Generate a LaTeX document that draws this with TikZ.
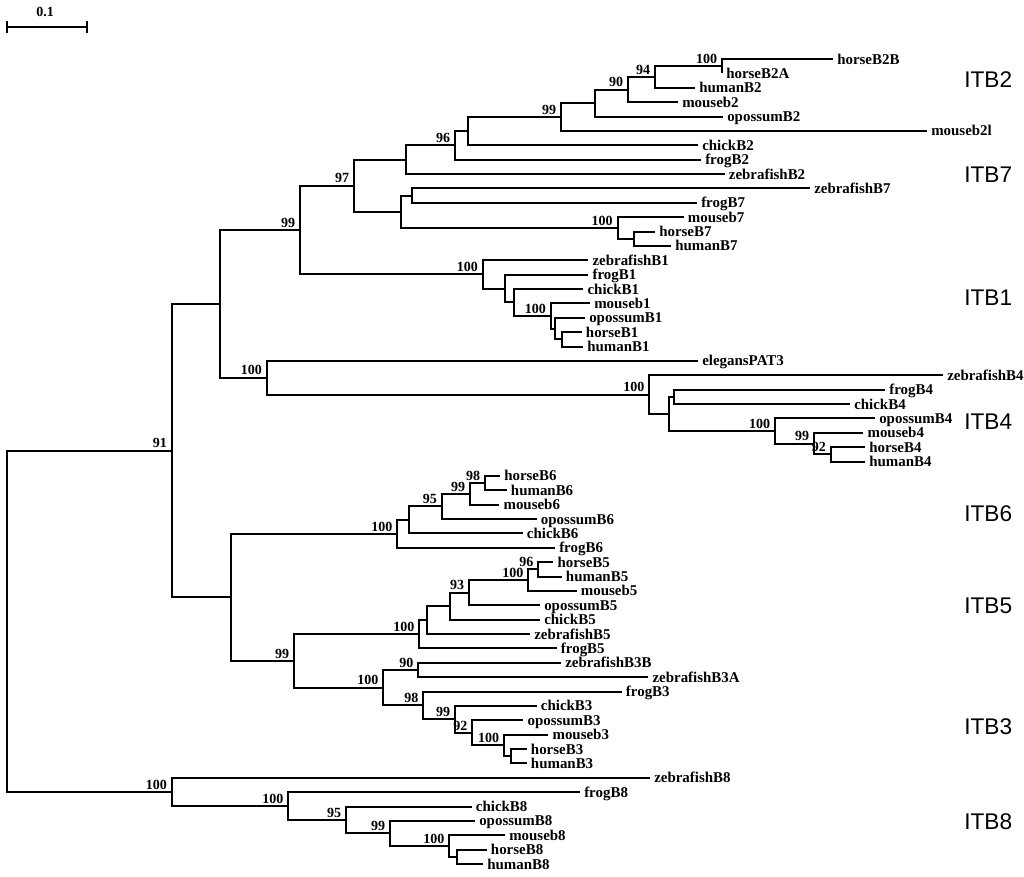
\documentclass[tikz,border=0pt]{standalone}
\usepackage{fontspec}
\setmainfont{Liberation Serif}
\newfontfamily\arialfont{Liberation Sans}
\newcommand{\myleaf}[4]{\coordinate (#1) at (#2,#3); \node[leaflab] (#1t) at (#1) {#4};}
\newcommand{\myboot}[3]{\node[bootlab] (#1) at (#2) {#3};}
\begin{document}
\begin{tikzpicture}[x=0.75pt,y=-0.75pt,
  br/.style={line width=1.5pt, line join=miter},
  leaflab/.style={anchor=base west, inner sep=0pt, xshift=3pt, yshift=-3.75pt, font=\bfseries\fontsize{11.2}{12}\selectfont},
  bootlab/.style={anchor=south east, inner sep=0pt, xshift=-3.5pt, yshift=1.8pt, font=\bfseries\fontsize{10.5}{12}\selectfont},
  clade/.style={anchor=west, inner sep=0pt, font=\arialfont\fontsize{17}{20}\selectfont}]
\useasboundingbox (0,0) rectangle (1024,876);
% scale bar
\coordinate (sb1) at (7,27);
\coordinate (sb2) at (87,27);
\coordinate (sb1a) at (7,21);
\coordinate (sb1b) at (7,33);
\coordinate (sb2a) at (87,21);
\coordinate (sb2b) at (87,33);
\draw[br] (sb1) -- (sb2);
\draw[br] (sb1a) -- (sb1b);
\draw[br] (sb2a) -- (sb2b);
\node[font=\bfseries\fontsize{10.5}{12}\selectfont, inner sep=0pt] (sbl) at (45,12) {0.1};
% internal nodes
\coordinate (root) at (7.3,621.27);
\coordinate (N91) at (171.7,450.64);
\coordinate (N8) at (171.7,791.90);
\coordinate (N220) at (220,303.89);
\coordinate (N231) at (231,597.39);
\coordinate (N99a) at (300,230.06);
\coordinate (J) at (266.7,377.72);
\coordinate (N97) at (354,185.71);
\coordinate (N100B1) at (482.7,274.40);
\coordinate (NB) at (405.7,159.68);
\coordinate (C) at (401.4,211.73);
\coordinate (N96) at (455,145.36);
\coordinate (A) at (467.5,131.10);
\coordinate (N99b) at (561,116.95);
\coordinate (Nq) at (595,103.02);
\coordinate (N90) at (628,89.55);
\coordinate (N94) at (655,76.97);
\coordinate (N100a) at (722,66.19);
\coordinate (D) at (412,195.56);
\coordinate (N100B7) at (617.5,227.91);
\coordinate (E) at (633.6,238.69);
\coordinate (F) at (505,288.55);
\coordinate (G) at (514,302.48);
\coordinate (N100b) at (550.7,315.95);
\coordinate (H) at (555,328.53);
\coordinate (I) at (561.7,339.31);
\coordinate (N100B4) at (649.3,394.57);
\coordinate (K) at (669.3,413.88);
\coordinate (L) at (674,396.81);
\coordinate (N100c) at (775,430.95);
\coordinate (N99B4) at (814,443.53);
\coordinate (N92B4) at (830.7,454.31);
\coordinate (N100B6) at (397.3,533.82);
\coordinate (M) at (409.3,519.90);
\coordinate (N95) at (441.7,506.42);
\coordinate (N99d) at (470,493.84);
\coordinate (N98) at (485,483.06);
\coordinate (N99c) at (294,660.95);
\coordinate (N100B5) at (419.3,634.22);
\coordinate (O) at (426.7,620.07);
\coordinate (Q) at (450,606.15);
\coordinate (P) at (469,592.67);
\coordinate (N100e) at (528.3,580.09);
\coordinate (N96e) at (538.3,569.31);
\coordinate (N100B3) at (383.3,687.68);
\coordinate (N90B3) at (418.3,669.94);
\coordinate (N98B3) at (423.3,705.43);
\coordinate (N99B3) at (455,719.35);
\coordinate (N92B3) at (472.3,732.83);
\coordinate (N100f) at (504,745.41);
\coordinate (R) at (510.7,756.19);
\coordinate (N100g) at (288.3,806.05);
\coordinate (N95g) at (346,819.98);
\coordinate (N99g) at (390,833.45);
\coordinate (N100h) at (449.3,846.03);
\coordinate (S) at (456.7,856.81);
% leaves
\myleaf{l1}{833}{59}{horseB2B}
\myleaf{l2}{722}{73.375}{horseB2A}
\myleaf{l3}{695}{87.75}{humanB2}
\myleaf{l4}{678}{102.125}{mouseb2}
\myleaf{l5}{723}{116.5}{opossumB2}
\myleaf{l6}{927}{130.875}{mouseb2l}
\myleaf{l7}{698}{145.25}{chickB2}
\myleaf{l8}{701}{159.625}{frogB2}
\myleaf{l9}{724.6}{174}{zebrafishB2}
\myleaf{l10}{810}{188.375}{zebrafishB7}
\myleaf{l11}{697}{202.75}{frogB7}
\myleaf{l12}{683.6}{217.125}{mouseb7}
\myleaf{l13}{655}{231.5}{horseB7}
\myleaf{l14}{671}{245.875}{humanB7}
\myleaf{l15}{588.3}{260.25}{zebrafishB1}
\myleaf{l16}{588.3}{274.625}{frogB1}
\myleaf{l17}{583.3}{289}{chickB1}
\myleaf{l18}{590}{303.375}{mouseb1}
\myleaf{l19}{585}{317.75}{opossumB1}
\myleaf{l20}{581.7}{332.125}{horseB1}
\myleaf{l21}{583}{346.5}{humanB1}
\myleaf{l22}{698}{360.875}{elegansPAT3}
\myleaf{l23}{943}{375.25}{zebrafishB4}
\myleaf{l24}{885}{389.625}{frogB4}
\myleaf{l25}{850}{404}{chickB4}
\myleaf{l26}{875}{418.375}{opossumB4}
\myleaf{l27}{863.3}{432.75}{mouseb4}
\myleaf{l28}{865}{447.125}{horseB4}
\myleaf{l29}{865}{461.5}{humanB4}
\myleaf{l30}{500}{475.875}{horseB6}
\myleaf{l31}{506.7}{490.25}{humanB6}
\myleaf{l32}{499.3}{504.625}{mouseb6}
\myleaf{l33}{536.7}{519}{opossumB6}
\myleaf{l34}{522.7}{533.375}{chickB6}
\myleaf{l35}{555}{547.75}{frogB6}
\myleaf{l36}{553.3}{562.125}{horseB5}
\myleaf{l37}{561.7}{576.5}{humanB5}
\myleaf{l38}{576.7}{590.875}{mouseb5}
\myleaf{l39}{540}{605.25}{opossumB5}
\myleaf{l40}{540}{619.625}{chickB5}
\myleaf{l41}{530}{634}{zebrafishB5}
\myleaf{l42}{556.7}{648.375}{frogB5}
\myleaf{l43}{561}{662.75}{zebrafishB3B}
\myleaf{l44}{648.3}{677.125}{zebrafishB3A}
\myleaf{l45}{621.7}{691.5}{frogB3}
\myleaf{l46}{536.7}{705.875}{chickB3}
\myleaf{l47}{523.3}{720.25}{opossumB3}
\myleaf{l48}{548.3}{734.625}{mouseb3}
\myleaf{l49}{526.7}{749}{horseB3}
\myleaf{l50}{526.7}{763.375}{humanB3}
\myleaf{l51}{650}{777.75}{zebrafishB8}
\myleaf{l52}{580}{792.125}{frogB8}
\myleaf{l53}{471.7}{806.5}{chickB8}
\myleaf{l54}{475}{820.875}{opossumB8}
\myleaf{l55}{505}{835.25}{mouseb8}
\myleaf{l56}{486.7}{849.625}{horseB8}
\myleaf{l57}{483}{864}{humanB8}
% branches
\draw[br] (root) |- (N91); \draw[br] (root) |- (N8);
\draw[br] (N91) |- (N220); \draw[br] (N91) |- (N231);
\draw[br] (N220) |- (N99a); \draw[br] (N220) |- (J);
\draw[br] (N99a) |- (N97); \draw[br] (N99a) |- (N100B1);
\draw[br] (N97) |- (NB); \draw[br] (N97) |- (C);
\draw[br] (NB) |- (N96); \draw[br] (NB) |- (l9);
\draw[br] (N96) |- (A); \draw[br] (N96) |- (l8);
\draw[br] (A) |- (N99b); \draw[br] (A) |- (l7);
\draw[br] (N99b) |- (Nq); \draw[br] (N99b) |- (l6);
\draw[br] (Nq) |- (N90); \draw[br] (Nq) |- (l5);
\draw[br] (N90) |- (N94); \draw[br] (N90) |- (l4);
\draw[br] (N94) |- (N100a); \draw[br] (N94) |- (l3);
\draw[br] (N100a) |- (l1); \draw[br] (N100a) |- (l2);
\draw[br] (C) |- (D); \draw[br] (C) |- (N100B7);
\draw[br] (D) |- (l10); \draw[br] (D) |- (l11);
\draw[br] (N100B7) |- (l12); \draw[br] (N100B7) |- (E);
\draw[br] (E) |- (l13); \draw[br] (E) |- (l14);
\draw[br] (N100B1) |- (l15); \draw[br] (N100B1) |- (F);
\draw[br] (F) |- (l16); \draw[br] (F) |- (G);
\draw[br] (G) |- (l17); \draw[br] (G) |- (N100b);
\draw[br] (N100b) |- (l18); \draw[br] (N100b) |- (H);
\draw[br] (H) |- (l19); \draw[br] (H) |- (I);
\draw[br] (I) |- (l20); \draw[br] (I) |- (l21);
\draw[br] (J) |- (l22); \draw[br] (J) |- (N100B4);
\draw[br] (N100B4) |- (l23); \draw[br] (N100B4) |- (K);
\draw[br] (K) |- (L); \draw[br] (K) |- (N100c);
\draw[br] (L) |- (l24); \draw[br] (L) |- (l25);
\draw[br] (N100c) |- (l26); \draw[br] (N100c) |- (N99B4);
\draw[br] (N99B4) |- (l27); \draw[br] (N99B4) |- (N92B4);
\draw[br] (N92B4) |- (l28); \draw[br] (N92B4) |- (l29);
\draw[br] (N231) |- (N100B6); \draw[br] (N231) |- (N99c);
\draw[br] (N100B6) |- (M); \draw[br] (N100B6) |- (l35);
\draw[br] (M) |- (N95); \draw[br] (M) |- (l34);
\draw[br] (N95) |- (N99d); \draw[br] (N95) |- (l33);
\draw[br] (N99d) |- (N98); \draw[br] (N99d) |- (l32);
\draw[br] (N98) |- (l30); \draw[br] (N98) |- (l31);
\draw[br] (N99c) |- (N100B5); \draw[br] (N99c) |- (N100B3);
\draw[br] (N100B5) |- (O); \draw[br] (N100B5) |- (l42);
\draw[br] (O) |- (Q); \draw[br] (O) |- (l41);
\draw[br] (Q) |- (P); \draw[br] (Q) |- (l40);
\draw[br] (P) |- (N100e); \draw[br] (P) |- (l39);
\draw[br] (N100e) |- (N96e); \draw[br] (N100e) |- (l38);
\draw[br] (N96e) |- (l36); \draw[br] (N96e) |- (l37);
\draw[br] (N100B3) |- (N90B3); \draw[br] (N100B3) |- (N98B3);
\draw[br] (N90B3) |- (l43); \draw[br] (N90B3) |- (l44);
\draw[br] (N98B3) |- (l45); \draw[br] (N98B3) |- (N99B3);
\draw[br] (N99B3) |- (l46); \draw[br] (N99B3) |- (N92B3);
\draw[br] (N92B3) |- (l47); \draw[br] (N92B3) |- (N100f);
\draw[br] (N100f) |- (l48); \draw[br] (N100f) |- (R);
\draw[br] (R) |- (l49); \draw[br] (R) |- (l50);
\draw[br] (N8) |- (l51); \draw[br] (N8) |- (N100g);
\draw[br] (N100g) |- (l52); \draw[br] (N100g) |- (N95g);
\draw[br] (N95g) |- (l53); \draw[br] (N95g) |- (N99g);
\draw[br] (N99g) |- (l54); \draw[br] (N99g) |- (N100h);
\draw[br] (N100h) |- (l55); \draw[br] (N100h) |- (S);
\draw[br] (S) |- (l56); \draw[br] (S) |- (l57);
% bootstrap values
\myboot{bN100a}{N100a}{100}
\myboot{bN94}{N94}{94}
\myboot{bN90}{N90}{90}
\myboot{bN99b}{N99b}{99}
\myboot{bN96}{N96}{96}
\myboot{bN97}{N97}{97}
\myboot{bN99a}{N99a}{99}
\myboot{bN100B7}{N100B7}{100}
\myboot{bN100B1}{N100B1}{100}
\myboot{bN100b}{N100b}{100}
\myboot{bJ}{J}{100}
\myboot{bN100B4}{N100B4}{100}
\myboot{bN100c}{N100c}{100}
\myboot{bN99B4}{N99B4}{99}
\myboot{bN92B4}{N92B4}{92}
\myboot{bN91}{N91}{91}
\myboot{bN100B6}{N100B6}{100}
\myboot{bN95}{N95}{95}
\myboot{bN99d}{N99d}{99}
\myboot{bN98}{N98}{98}
\myboot{bN96e}{N96e}{96}
\myboot{bN100e}{N100e}{100}
\myboot{bP}{P}{93}
\myboot{bN100B5}{N100B5}{100}
\myboot{bN99c}{N99c}{99}
\myboot{bN90B3}{N90B3}{90}
\myboot{bN100B3}{N100B3}{100}
\myboot{bN98B3}{N98B3}{98}
\myboot{bN99B3}{N99B3}{99}
\myboot{bN92B3}{N92B3}{92}
\myboot{bN100f}{N100f}{100}
\myboot{bN8}{N8}{100}
\myboot{bN100g}{N100g}{100}
\myboot{bN95g}{N95g}{95}
\myboot{bN99g}{N99g}{99}
\myboot{bN100h}{N100h}{100}
% clade labels
\node[clade] (itb2) at (964,80) {ITB2};
\node[clade] (itb7) at (964,175) {ITB7};
\node[clade] (itb1) at (964,298) {ITB1};
\node[clade] (itb4) at (964,422) {ITB4};
\node[clade] (itb6) at (964,514) {ITB6};
\node[clade] (itb5) at (964,606) {ITB5};
\node[clade] (itb3) at (964,727) {ITB3};
\node[clade] (itb8) at (964,822) {ITB8};
\end{tikzpicture}
\end{document}
